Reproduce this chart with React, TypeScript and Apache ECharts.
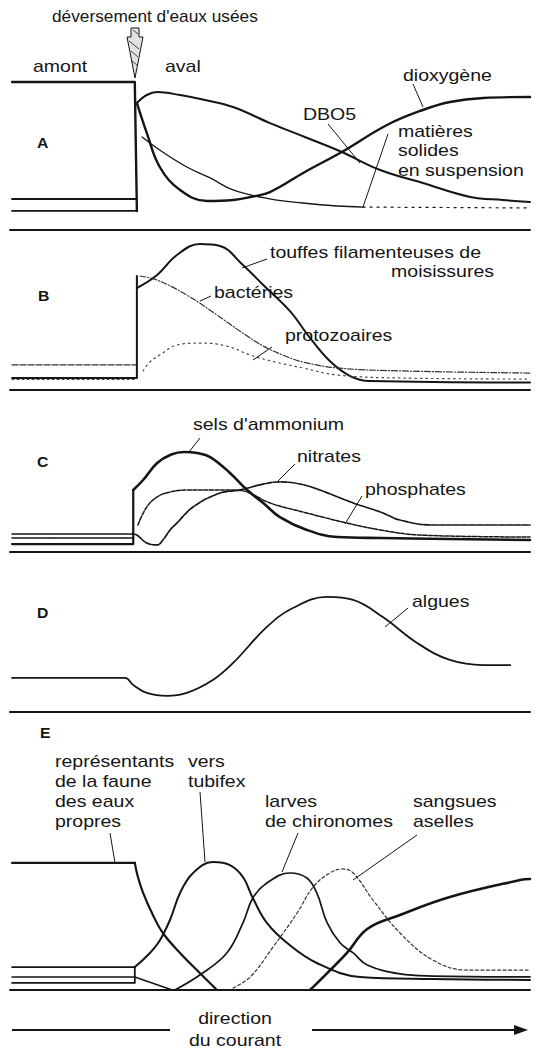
import React, { useEffect, useRef } from "react";
import * as echarts from "echarts";

// ---------- DATA (x: distance 0–100 along the river, y: relative level 0–100) ----------
// Panel A
const A_O2_UPSTREAM = [[0.4, 98.7], [24, 98.7], [24.4, 12.7]];
const A_O2 = [[24.4, 84.7], [26.3, 64.7], [28.8, 42], [32.7, 26.7], [37.9, 19.3], [42.9, 20], [46.2, 22], [50, 25.3], [56.7, 38.7], [63.8, 52], [72.5, 70], [79.4, 80], [84.6, 85.3], [91, 88], [100, 88.7]];
const A_DBO5_UPSTREAM = [[0.4, 20.7], [24.4, 20.7]];
const A_DBO5 = [[24.4, 84.7], [26.3, 90], [28.3, 92], [32.7, 90], [37.5, 86.7], [42.9, 82], [50, 71.3], [56.7, 62], [63.8, 52], [71.2, 40], [79.4, 31.3], [88.5, 22], [94.8, 20], [100, 18.7]];
const A_MES_UPSTREAM = [[0.4, 12.7], [24.4, 12.7]];
const A_MES = [[25.4, 62], [28.8, 53.3], [34, 42], [38.5, 34.7], [42.9, 26.7], [50, 20.7], [56.3, 18], [62.9, 16], [67.9, 15.3]];
const A_MES_TAIL = [[67.9, 15.3], [100, 14.7]];

// Panel B
const B_TOUFFES_UPSTREAM = [[0.4, 8], [24.4, 8], [24.4, 76]];
const B_TOUFFES = [[24.4, 68], [28.3, 76.7], [32.1, 90], [36.5, 97.3], [40.4, 96], [44.8, 83.3], [48.7, 70], [53.8, 52.7], [57.7, 34.7], [61.5, 19.3], [65.4, 9.3], [69.2, 6], [100, 5]];
const B_BACT_UPSTREAM = [[0.4, 16.7], [24.4, 16.7]];
const B_BACT = [[25, 76], [28.3, 73.3], [34, 63.3], [39.8, 50], [44.2, 39.3], [48.7, 29.3], [52.9, 22.7], [56.3, 18.7], [62.9, 14.7], [75.6, 12.7], [100, 11.3]];
const B_PROTO_UPSTREAM = [[0.4, 7], [24.4, 7]];
const B_PROTO = [[25.6, 12.7], [26.9, 18.7], [28.8, 23.3], [32.1, 30], [36.5, 31.3], [41.7, 29.3], [46.2, 23.3], [51, 18.7], [56.3, 14.7], [62.9, 10], [75, 8], [100, 7.3]];

// Panel C
const C_NH4_UPSTREAM = [[0.4, 5.3], [23.7, 5.3], [23.7, 41.3]];
const C_NH4 = [[23.7, 41.3], [25.6, 48], [28.3, 59.3], [31, 65], [33.5, 66.7], [36, 66], [38.5, 63.3], [42.3, 52.7], [45.6, 41.3], [48.7, 32.7], [51.9, 23.3], [57.1, 14.7], [62.9, 10], [71.2, 9.3], [100, 8]];
const C_NO3_UPSTREAM = [[0.4, 12], [23.7, 12]];
const C_NO3 = [[23.7, 12], [24.4, 11.3], [26.3, 6], [28.3, 4.7], [29.4, 8], [30.8, 14.7], [32.1, 19.3], [35.2, 30], [40.4, 39.3], [44.2, 41.3], [48.7, 45.3], [51.9, 46.7], [55.8, 45.3], [59.6, 41.3], [66, 32.7], [71.2, 26.7], [75, 21.3], [81.3, 18], [100, 18]];
const C_PO4_UPSTREAM = [[0.4, 9.3], [23.7, 9.3]];
const C_PO4 = [[24.6, 18], [26.3, 30], [28.3, 36.7], [30.8, 40], [34, 41.3], [39, 41.3], [42.9, 41.3], [45.6, 40], [50, 32.7], [56.3, 26.7], [64.8, 19.3], [71.2, 14.7], [78.8, 11.3], [100, 10]];

// Panel D
const D_ALGUES = [[0.4, 22.7], [22.1, 22.7], [23.7, 18], [26.3, 12.7], [30.2, 10.7], [34, 12.7], [39, 21.3], [42.9, 32.7], [49.4, 56.7], [54.4, 69.3], [61, 76.7], [66, 74.7], [71.7, 63.3], [78.3, 46], [84.6, 34.7], [91, 31.3], [96.2, 31.3]];

// Panel E
const E_PROPRES_UPSTREAM = [[0.4, 84.7], [24, 84.7]];
const E_PROPRES = [[24, 84.7], [24.6, 75.3], [25.6, 64.7], [27.3, 51.3], [29.4, 38], [32.7, 24.7], [36.5, 11.3], [39.8, 0]];
const E_PROPRES_RETOUR = [[57.7, 0], [61, 11.3], [64.8, 24.7], [68.7, 40.7], [75, 50], [84.6, 62], [98.1, 73.3], [100, 74]];
const E_TUBIFEX_UPSTREAM = [[0.4, 15.3], [24, 15.3]];
const E_TUBIFEX = [[24, 15.3], [26.9, 24.7], [28.8, 33], [30.8, 47], [32.7, 64.7], [35.2, 78], [39, 85.3], [42.3, 83.3], [44.8, 75.3], [46.7, 61.3], [49.4, 44.7], [53.3, 31.3], [59, 18], [67.3, 8.7], [81.3, 7.3], [100, 6.7]];
const E_CHIRO_UPSTREAM = [[0.4, 8.7], [24, 8.7], [31.2, 0]];
const E_CHIRO = [[31.7, 0], [36.5, 10], [41.7, 24.7], [44.8, 44.7], [46.7, 61.3], [49.4, 71.3], [53.8, 78], [57.1, 74.7], [59, 64.7], [61, 44.7], [63.5, 31.3], [66, 24.7], [68.7, 16.7], [75, 10.7], [81.3, 9.3], [100, 8.7]];
const E_SANG_UPSTREAM = [[0.4, 4.7], [24, 4.7], [24, 15.3]];
const E_SANG = [[42.9, 1.3], [46.2, 8.7], [50.6, 28.7], [55.2, 51.3], [58.3, 68.7], [61.5, 78], [64, 80.7], [66, 78], [69.8, 60], [75, 38], [81.3, 20], [87.9, 13.3], [100, 13.3]];

const PANEL_LETTERS = ["A", "B", "C", "D", "E"];

// ---------- layout / style ----------
const FONT = '"Liberation Sans", Arial, Helvetica, sans-serif';
const INK = "#151515";
const PANEL_TOPS = [80, 240, 402, 562, 840];
const PANEL_H = 150;
const LETTER_POS = [[37, 143], [38, 296], [37, 462], [37, 613], [40, 733]];
const WIDE = 1.22;

function App() {
  const ref = useRef<HTMLDivElement>(null);
  useEffect(() => {
    document.body.style.margin = "0";
    if (!ref.current) return;
    const chart = echarts.init(ref.current, null, { renderer: "svg" });

    const grids = PANEL_TOPS.map((t) => ({ left: 10, right: 9, top: t, height: PANEL_H }));
    const xAxes = PANEL_TOPS.map((_, i) => ({
      type: "value", gridIndex: i, min: 0, max: 100,
      axisLine: { show: true, onZero: false, lineStyle: { color: INK, width: 2 } },
      axisTick: { show: false }, axisLabel: { show: false }, splitLine: { show: false },
    }));
    const yAxes = PANEL_TOPS.map((_, i) => ({
      type: "value", gridIndex: i, min: 0, max: 100, show: false, splitLine: { show: false },
    }));

    const s = (name: string, data: number[][], g: number, width: number, type: any = "solid", smooth: number | boolean = 0.4, color = INK) => ({
      type: "line", name, data, xAxisIndex: g, yAxisIndex: g, smooth,
      showSymbol: false, symbol: "none", silent: true,
      lineStyle: { color, width, type, cap: "round", join: "round" },
    });

    const series = [
      s("dioxygène amont", A_O2_UPSTREAM, 0, 2.4, "solid", false),
      s("dioxygène", A_O2, 0, 2.4),
      s("DBO5 amont", A_DBO5_UPSTREAM, 0, 2, "solid", false),
      s("DBO5", A_DBO5, 0, 2),
      s("MES amont", A_MES_UPSTREAM, 0, 1.8, "solid", false),
      s("matières solides en suspension", A_MES, 0, 1.3),
      s("MES queue", A_MES_TAIL, 0, 1.2, [2, 5], false),

      s("touffes amont", B_TOUFFES_UPSTREAM, 1, 2, "solid", false),
      s("touffes filamenteuses", B_TOUFFES, 1, 2),
      s("bactéries amont", B_BACT_UPSTREAM, 1, 1.3, [6, 2], false, "#333"),
      s("bactéries", B_BACT, 1, 1.2, [6, 2, 1, 2], 0.4, "#333"),
      s("protozoaires amont", B_PROTO_UPSTREAM, 1, 1.2, [2, 3], false, "#444"),
      s("protozoaires", B_PROTO, 1, 1.2, [1.5, 4], 0.4, "#444"),

      s("ammonium amont", C_NH4_UPSTREAM, 2, 2.2, "solid", false),
      s("sels d'ammonium", C_NH4, 2, 2.6),
      s("nitrates amont", C_NO3_UPSTREAM, 2, 1.6, [8, 1], false),
      s("nitrates", C_NO3, 2, 1.7, [6, 1.5]),
      s("phosphates amont", C_PO4_UPSTREAM, 2, 1.6, [8, 1], false),
      s("phosphates", C_PO4, 2, 1.5, [4, 1.5]),

      s("algues", D_ALGUES, 3, 1.8),

      s("faune propre amont", E_PROPRES_UPSTREAM, 4, 2.2, "solid", false),
      s("faune des eaux propres", E_PROPRES, 4, 2.2),
      s("faune des eaux propres (retour)", E_PROPRES_RETOUR, 4, 2.6),
      s("tubifex amont", E_TUBIFEX_UPSTREAM, 4, 1.8, "solid", false),
      s("vers tubifex", E_TUBIFEX, 4, 2),
      s("chironomes amont", E_CHIRO_UPSTREAM, 4, 1.6, "solid", false),
      s("larves de chironomes", E_CHIRO, 4, 1.7),
      s("sangsues amont", E_SANG_UPSTREAM, 4, 1.8, "solid", false),
      s("sangsues aselles", E_SANG, 4, 1.2, [3, 2.5], 0.4, "#333"),
    ];

    const txt = (text: string, x: number, y: number, extra: any = {}, scaleX = WIDE) => ({
      type: "text", x, y, scaleX, silent: true,
      style: { text, fontSize: 16, fontFamily: FONT, fill: INK, verticalAlign: "middle", align: "left", ...extra },
    });
    const ln = (x1: number, y1: number, x2: number, y2: number, w = 1) => ({
      type: "line", silent: true, shape: { x1, y1, x2, y2 }, style: { stroke: INK, lineWidth: w },
    });

    const graphic: any[] = [
      txt("déversement d'eaux usées", 52, 17, {}, 1.08),
      {
        type: "polygon", silent: true,
        shape: { points: [[131, 28], [139, 28], [139, 37], [143, 37], [135, 78], [127, 37], [131, 37]] },
        style: { fill: "#e2e2e2", stroke: INK, lineWidth: 1 },
      },
      ln(129, 41, 139, 49, 0.8), ln(131, 51, 138, 57, 0.8), ln(132, 61, 137, 65, 0.8), ln(133, 30, 138, 34, 0.8),
      txt("amont", 33, 67),
      txt("aval", 165, 67),
      txt("dioxygène", 403, 76),
      ln(413, 84, 423, 107),
      txt("DBO5", 303, 115),
      ln(328, 124, 360, 163),
      txt("matières", 398, 132),
      txt("solides", 398, 151),
      txt("en suspension", 398, 171),
      ln(388, 134, 363, 207),

      txt("touffes filamenteuses de", 270, 253),
      txt("moisissures", 494, 272, { align: "right" }),
      ln(267, 259, 242, 268),
      txt("bactéries", 214, 293),
      ln(211, 296, 200, 301),
      txt("protozoaires", 285, 336),
      ln(272, 347, 253, 360),

      txt("sels d'ammonium", 193, 425),
      ln(200, 438, 189, 452),
      txt("nitrates", 297, 457),
      ln(295, 464, 277, 482),
      txt("phosphates", 365, 490),
      ln(362, 496, 345, 524),

      txt("algues", 412, 602),
      ln(408, 608, 385, 627),

      txt("représentants", 55, 762),
      txt("de la faune", 55, 782),
      txt("des eaux", 55, 802),
      txt("propres", 55, 822),
      ln(110, 833, 115, 863),
      txt("vers", 188, 762),
      txt("tubifex", 188, 782),
      ln(200, 792, 205, 862),
      txt("larves", 265, 802),
      txt("de chironomes", 265, 822),
      ln(298, 833, 282, 872),
      txt("sangsues", 413, 802),
      txt("aselles", 413, 822),
      ln(417, 835, 353, 880),

      ln(12, 1030, 170, 1030, 2),
      ln(312, 1030, 518, 1030, 2),
      { type: "polygon", silent: true, shape: { points: [[514, 1025], [528, 1030], [514, 1035]] }, style: { fill: INK } },
      txt("direction", 235, 1019, { align: "center" }),
      txt("du courant", 235, 1041, { align: "center" }),
      ...PANEL_LETTERS.map((l, i) => txt(l, LETTER_POS[i][0], LETTER_POS[i][1], { fontWeight: "bold", fontSize: 15 }, 1.05)),
    ];

    chart.setOption({
      animation: false,
      backgroundColor: "#ffffff",
      grid: grids,
      xAxis: xAxes,
      yAxis: yAxes,
      series,
      graphic,
    });
    return () => chart.dispose();
  }, []);
  return <div ref={ref} style={{ width: 539, height: 1051 }} />;
}

export default App;
